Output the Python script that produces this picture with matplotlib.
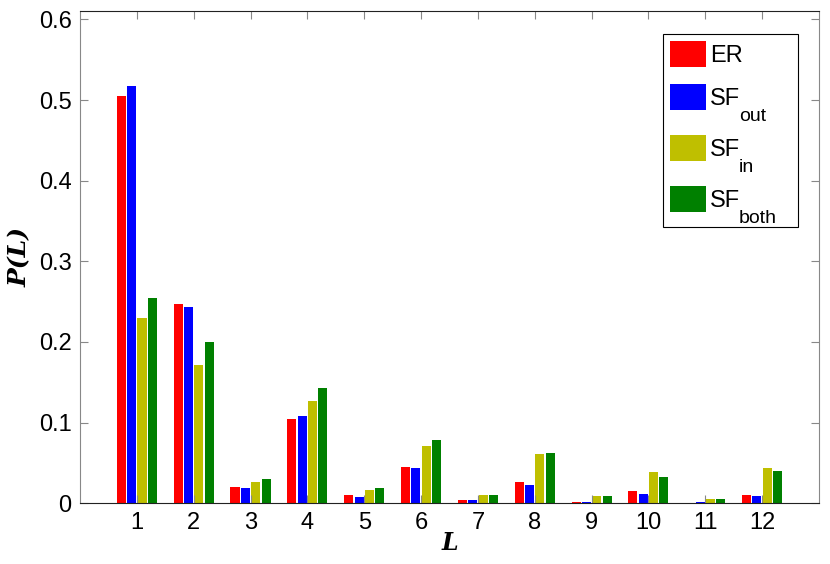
import numpy as np
import matplotlib
matplotlib.use('Agg')
import matplotlib.pyplot as plt
from matplotlib.offsetbox import DrawingArea
from matplotlib.text import Text

# Datos
L = np.arange(1, 13)
er = [0.5045, 0.2466, 0.020, 0.104, 0.0099, 0.045, 0.0041, 0.0264, 0.0016, 0.0152, 0.0010, 0.0103]
sf_out = [0.5177, 0.2438, 0.0186, 0.1077, 0.0082, 0.0433, 0.0040, 0.0227, 0.0021, 0.0115, 0.0013, 0.0090]
sf_in = [0.2293, 0.1712, 0.0267, 0.1266, 0.0169, 0.0709, 0.0107, 0.0606, 0.0090, 0.0388, 0.0057, 0.0437]
sf_both = [0.2550, 0.2000, 0.0300, 0.1427, 0.0190, 0.0780, 0.0105, 0.0619, 0.0087, 0.0326, 0.0053, 0.0398]

series = [er, sf_out, sf_in, sf_both]
names = ['ER', 'SF', 'SF', 'SF']
subs = ['', 'out', 'in', 'both']
colors = ['#ff0000', '#0000ff', '#bfbf00', '#008000']

plt.rcParams['font.family'] = ['Liberation Sans', 'DejaVu Sans']

fig = plt.figure(figsize=(8.3, 5.64), dpi=100)
ax = fig.add_axes([0.0964, 0.1076, 0.8903, 0.8724])

slot = 0.182
offsets = (np.arange(4) - 1.5) * slot
for vals, off, c, name in zip(series, offsets, colors, names):
    ax.bar(L + off, vals, width=0.16, color=c, label=name, linewidth=0)

ax.set_xlim(0, 13)
ax.set_ylim(0, 0.61)
ax.set_xticks(L)
ax.set_yticks([0, 0.1, 0.2, 0.3, 0.4, 0.5, 0.6])
ax.set_yticklabels(['0', '0.1', '0.2', '0.3', '0.4', '0.5', '0.6'])
ax.tick_params(direction='in', top=True, right=True, labelsize=17,
               length=6, color='#888888', pad=6)

for side in ['left', 'right']:
    ax.spines[side].set_color('#888888')
for side in ['top', 'bottom']:
    ax.spines[side].set_color('#222222')

ax.set_xlabel('L', fontsize=17, fontweight='bold', fontstyle='italic',
              family='DejaVu Serif', labelpad=-2)
ax.set_ylabel('P(L)', fontsize=18, fontweight='bold', fontstyle='italic',
              family='DejaVu Serif', labelpad=5)

leg = ax.legend(loc='upper right', bbox_to_anchor=(0.9716, 0.954), borderaxespad=0,
                fontsize=17, handlelength=1.5, handleheight=1.3, labelspacing=0.75,
                handletextpad=0.2, borderpad=0.3, fancybox=False,
                framealpha=1, edgecolor='black')
leg.get_frame().set_linewidth(0.8)

# subíndices estilo MATLAB: se añade una caja extra a cada fila de la leyenda
rows = [hp for col in leg._legend_handle_box.get_children() for hp in col.get_children()]
for hp, sub in zip(rows, subs):
    if sub:
        da = DrawingArea(31, 10, 0, 9)
        da.add_artist(Text(-4.5, -11, sub, fontsize=14, va='baseline', ha='left'))
    else:
        da = DrawingArea(31, 1, 0, 0)
    da.set_figure(fig)
    hp.get_children().append(da)

fig.savefig('out.png', dpi=100)
